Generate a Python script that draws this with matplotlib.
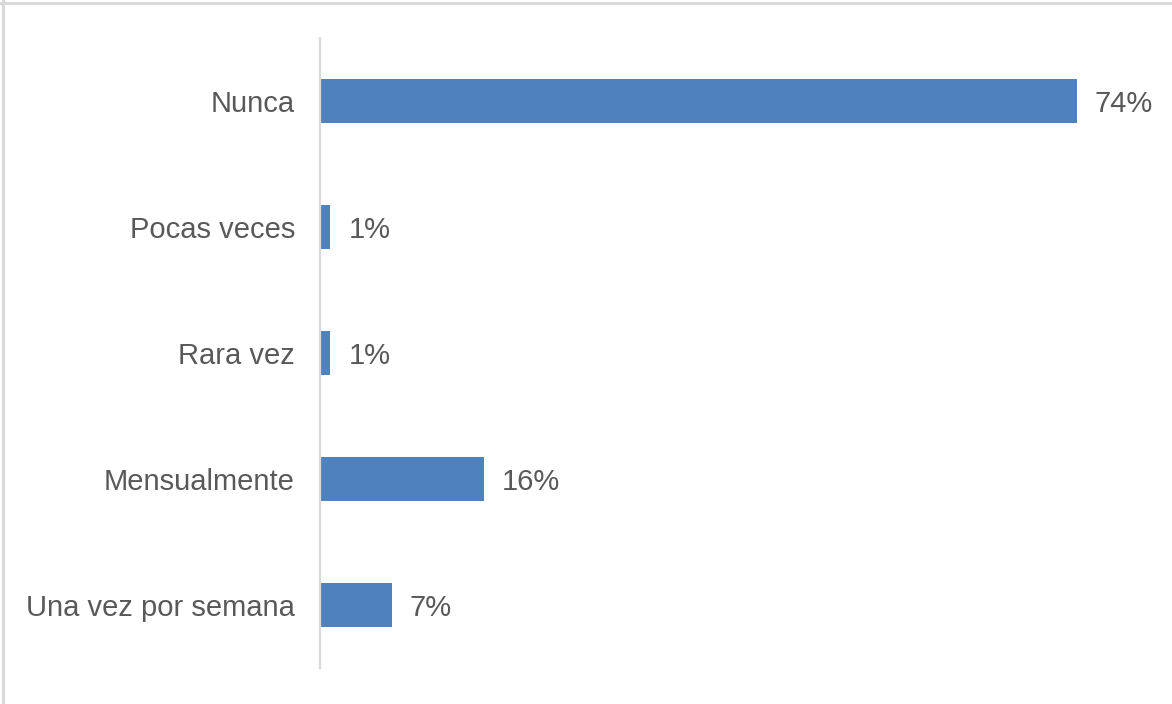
import matplotlib.pyplot as plt
from matplotlib.lines import Line2D

categories = ['Nunca', 'Pocas veces', 'Rara vez', 'Mensualmente', 'Una vez por semana']
percentages = [74, 1, 1, 16, 7]

bar_color = '#4F81BD'
text_color = '#595959'
grid_gray = '#D9D9D9'

plt.rcParams['font.family'] = ['Liberation Sans', 'DejaVu Sans']

fig = plt.figure(figsize=(11.72, 7.04), dpi=100)
ax = fig.add_axes([320 / 1172, 1 - 668 / 704, 818 / 1172, 630 / 704])

y = list(range(len(categories)))
bars = ax.barh(y, percentages, height=0.35, color=bar_color)

for rect, val in zip(bars, percentages):
    ax.annotate(f'{val}%', xy=(rect.get_width(), rect.get_y() + rect.get_height() / 2),
                xytext=(13, 0), textcoords='offset points',
                ha='left', va='center_baseline', fontsize=21, color=text_color)

ax.set_xlim(0, 80)
ax.set_ylim(len(categories) - 0.5, -0.5)
ax.set_yticks(y)
ax.set_yticklabels(categories, fontsize=21, color=text_color)
for lbl in ax.get_yticklabels():
    lbl.set_va('center_baseline')
ax.tick_params(axis='y', length=0, pad=18)
ax.set_xticks([])

for side in ['top', 'right', 'bottom']:
    ax.spines[side].set_visible(False)
ax.spines['left'].set_color(grid_gray)
ax.spines['left'].set_linewidth(1.6)

# thin frame along the top and left edges
fig.add_artist(Line2D([0, 1], [1 - 3 / 704, 1 - 3 / 704], transform=fig.transFigure,
                      color=grid_gray, linewidth=2.2))
fig.add_artist(Line2D([3 / 1172, 3 / 1172], [0, 1], transform=fig.transFigure,
                      color=grid_gray, linewidth=2.2))

fig.savefig('out.png', dpi=100)
